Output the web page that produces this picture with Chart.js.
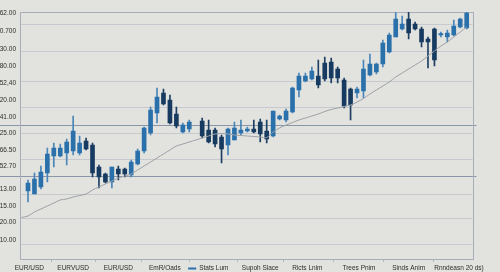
<!DOCTYPE html>
<html>
<head>
<meta charset="utf-8">
<script src="https://cdn.jsdelivr.net/npm/chart.js@4.4.1/dist/chart.umd.min.js"></script>
<style>
  html, body { margin: 0; padding: 0; background: #e2e2de; }
  #wrap { width: 500px; height: 272px; }
</style>
</head>
<body>
<div id="wrap"><canvas id="chart" width="500" height="272"></canvas></div>
<script>
// candle values, one slot per session (slot 26 is empty in the picture)
const openV  = [68,65,72,86,103,103,106,108,106,118, 114,92,85,77,90,90,84,95,108,126,
                146,166,159,145,127,130,null,138,129,129, 122,114,119,126,128,130,137,128,123,140,
                139,147,169,178,180,183,196,197,190,179, 170,166,168,184,187,195,207,222,230,240,
                235,230,220,230,224,222,224,232,231];
const closeV = [76,80,87,105,111,111,117,128,116,110, 86,82,77,92,85,85,97,108,131,149,
                162,155,136,133,134,137,null,123,117,115, 110,130,131,129,130,127,125,120,148,143,
                148,171,183,183,188,174,180,181,181,153, 154,170,190,195,195,216,224,240,235,226,
                230,217,217,199,225.5,226,233,240,246];
const highV  = [79,86,93,111,116,115,120,143,123,121, 116,94,86,92,93,91,99,110,132,152,
                171,170,164,152,136,139,null,141,139,131, 124,131,137,139,132,139,140,139,148,144,
                150,172,186,186,192,199,202,201,192,181, 171,172,199,205,196,219,226,247,243,247,
                237,232,222,231,227,229,239,241,247];
const lowV   = [57,65,70,77,92,102,94,104,104,109, 82,71,76,71,79,82,82,94,106,124,
                136,154,135,131,126,127,null,121,116,112, 96,104,119,124,127,126,117,116,122,139,
                137,146,162,177,179,171,178,176,176,151, 139,161,161,183,185,192,206,222,229,220,
                229,212,191,193,222,217,223,231,230];
// moving average, from slot -1 to slot 68
const maV = [41.5,43,47,50,53,56,59,60,62,63.5, 65,69,72,75,78,81,83,85,89,93,
             97,101,105,109,113,115,117,119,121,123, 125,125.5,125,124,123.5,123,122.5,122,121.5,127,
             131,134,136.5,139,141,143,145,147.5,149.5,151, 152.5,154,157,160.5,165,169,173,177,182,186,
             190,194,198,203,208,213,217,222,227,232];

// axis text
const yTickVals = [246,228,210,193,176,159,142,126,109,93,70,53,37,19];
const yTickText = ['62.00','0.700','30.00','80.00','52,40','20.00','41.00','25.00','66.50','52.70','13.00','15.00','20.00','10.00'];
const gridLevels = [235,208,178,151.5,134,125.5,99.5,83,65,41,14.5];
const bandLevels = [134,83];
const xLabels  = ['EUR/USD','EURVUSD','EUR/USD','EmR/Oads','Stats Lum','Supoh Slace','Ricts Lnim','Trees Pnim','Sinds Anim','Rnndeasn 20 ds)'];
const xLabelAt = [0.2,7,14,21.2,28.8,36,43.3,51.3,59,66.8];

const UP = '#2a70ab', DOWN = '#173b60';
const UP_WICK = '#4a86ba', DOWN_WICK = '#1d3f63';

const bodies = [], wicks = [], bodyCol = [], wickCol = [];
openV.forEach((o, i) => {
    if (o === null) return;
    const up = closeV[i] >= o;
    bodies.push({ x: i, y: [o, closeV[i]] });
    wicks.push({ x: i, y: [lowV[i], highV[i]] });
    bodyCol.push(up ? UP : DOWN);
    wickCol.push(up ? UP_WICK : DOWN_WICK);
});
const maPts = maV.map((v, k) => ({ x: k - 1, y: v }));

const fontSpec = { family: 'Liberation Sans', size: 6.5 };

// frame, darker band lines and the small legend dash under the axis
const framePlugin = {
    id: 'frame',
    beforeDatasetsDraw(chart) {
        const { ctx, chartArea: a, scales } = chart;
        ctx.save();
        ctx.strokeStyle = '#8a97a9';
        ctx.lineWidth = 1;
        bandLevels.forEach(v => {
            const y = Math.round(scales.y.getPixelForValue(v)) + 0.5;
            ctx.beginPath();
            ctx.moveTo(0, y);
            ctx.lineTo(a.right + 4, y);
            ctx.stroke();
        });
        ctx.strokeStyle = '#a7aeb9';
        ctx.strokeRect(Math.round(a.left) + 0.5, Math.round(a.top) + 0.5,
                       Math.round(a.right - a.left), Math.round(a.bottom - a.top));
        ctx.restore();
    },
    afterDraw(chart) {
        const { ctx, scales } = chart;
        const px = scales.x.getPixelForValue(xLabelAt[4]);
        ctx.save();
        ctx.font = fontSpec.size + 'px ' + fontSpec.family;
        const w = ctx.measureText(xLabels[4]).width;
        ctx.strokeStyle = UP;
        ctx.lineWidth = 2;
        ctx.beginPath();
        ctx.moveTo(px - w / 2 - 11, 268.5);
        ctx.lineTo(px - w / 2 - 3, 268.5);
        ctx.stroke();
        ctx.restore();
    }
};

new Chart(document.getElementById('chart'), {
    data: {
        datasets: [
            {
                type: 'line',
                data: maPts,
                borderColor: '#9ca1a7',
                borderWidth: 1,
                pointRadius: 0,
                tension: 0.3
            },
            {
                type: 'bar',
                data: bodies,
                backgroundColor: bodyCol,
                barThickness: 4,
                grouped: false,
                borderWidth: 0
            },
            {
                type: 'bar',
                data: wicks,
                backgroundColor: wickCol,
                barThickness: 1,
                grouped: false,
                borderWidth: 0
            }
        ]
    },
    options: {
        responsive: false,
        animation: false,
        devicePixelRatio: 1,
        layout: { padding: { top: 12, right: 27.5, left: 0, bottom: 0 } },
        plugins: { legend: { display: false }, tooltip: { enabled: false } },
        scales: {
            x: {
                type: 'linear',
                offset: false,
                min: -1.24,
                max: 68.9,
                afterBuildTicks: s => { s.ticks = xLabelAt.map(v => ({ value: v })); },
                afterFit: s => { s.height = 13; s.paddingLeft = 0; s.paddingRight = 0; },
                grid: { drawOnChartArea: false, drawTicks: true, tickLength: 3, color: '#b0b6bf' },
                border: { display: false },
                ticks: {
                    autoSkip: false,
                    maxRotation: 0,
                    padding: 2.5,
                    color: '#2c2c2c',
                    font: fontSpec,
                    callback: (v, i) => xLabels[i]
                }
            },
            y: {
                min: 0,
                max: 247,
                position: 'left',
                afterBuildTicks: s => { s.ticks = yTickVals.map(v => ({ value: v })); },
                afterFit: s => { s.width = 20; s.paddingTop = 0; s.paddingBottom = 0; },
                grid: { display: false, drawTicks: false },
                border: { display: false },
                ticks: {
                    autoSkip: false,
                    padding: 4,
                    color: '#2c2c2c',
                    font: fontSpec,
                    callback: (v, i) => yTickText[i]
                }
            },
            yGrid: {
                min: 0,
                max: 247,
                position: 'left',
                afterBuildTicks: s => { s.ticks = gridLevels.map(v => ({ value: v })); },
                afterFit: s => { s.width = 0; },
                grid: { color: '#c6cace', drawTicks: false },
                border: { display: false },
                ticks: { display: false }
            }
        }
    },
    plugins: [framePlugin]
});
</script>
</body>
</html>
